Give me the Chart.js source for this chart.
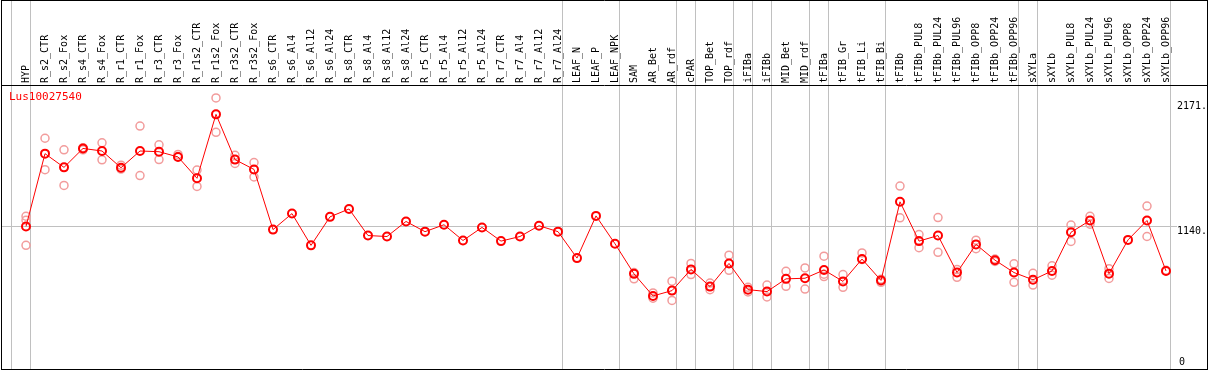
<!DOCTYPE html>
<html>
<head>
<meta charset="utf-8">
<script src="https://cdn.jsdelivr.net/npm/chart.js@4.4.1/dist/chart.umd.min.js"></script>
<style>
  html, body { margin: 0; padding: 0; background: #fff; }
  #wrap { width: 1209px; height: 370px; }
</style>
</head>
<body>
<div id="wrap"><canvas id="exprChart" width="1209" height="370"></canvas></div>
<script>
const geneName = 'Lus10027540';

const categories = [
  'HYP',
  'R_s2_CTR', 'R_s2_Fox', 'R_s4_CTR', 'R_s4_Fox', 'R_r1_CTR', 'R_r1_Fox', 'R_r3_CTR', 'R_r3_Fox',
  'R_r1s2_CTR', 'R_r1s2_Fox', 'R_r3s2_CTR', 'R_r3s2_Fox',
  'R_s6_CTR', 'R_s6_Al4', 'R_s6_Al12', 'R_s6_Al24', 'R_s8_CTR', 'R_s8_Al4', 'R_s8_Al12', 'R_s8_Al24',
  'R_r5_CTR', 'R_r5_Al4', 'R_r5_Al12', 'R_r5_Al24', 'R_r7_CTR', 'R_r7_Al4', 'R_r7_Al12', 'R_r7_Al24',
  'LEAF_N', 'LEAF_P', 'LEAF_NPK',
  'SAM', 'AR_Bet', 'AR_rdf', 'cPAR', 'TOP_Bet', 'TOP_rdf', 'iFIBa', 'iFIBb', 'MID_Bet', 'MID_rdf',
  'tFIBa', 'tFIB_Gr', 'tFIB_Li', 'tFIB_Bi',
  'tFIBb', 'tFIBb_PUL8', 'tFIBb_PUL24', 'tFIBb_PUL96', 'tFIBb_OPP8', 'tFIBb_OPP24', 'tFIBb_OPP96',
  'sXYLa', 'sXYLb', 'sXYLb_PUL8', 'sXYLb_PUL24', 'sXYLb_PUL96', 'sXYLb_OPP8', 'sXYLb_OPP24', 'sXYLb_OPP96'
];

// mean expression per sample
const meanValues = [
  1134,
  1734, 1621, 1777, 1756, 1618, 1756, 1750, 1707,
  1531, 2058, 1685, 1604,
  1108, 1240, 978, 1213, 1278, 1059, 1051, 1175,
  1091, 1148, 1018, 1126, 1013, 1051, 1140, 1091,
  873, 1221, 991,
  743, 561, 605, 780, 638, 829, 613, 597, 702, 707,
  775, 681, 865, 689,
  1337, 1013, 1059, 754, 986, 856, 754,
  694, 767, 1086, 1183, 745, 1023, 1183, 767
];

// individual replicates (null = not shown)
const rep1 = [
  1218,
  1861, 1766, 1783, 1823, 1639, 1961, 1807, 1728,
  1599, 2193, 1720, 1661,
  null, null, null, null, null, null, null, null,
  null, null, null, null, null, null, null, null,
  null, null, null,
  754, 586, 683, 829, 667, 897, 632, 651, 764, 792,
  889, 737, 916, 699,
  1467, 1067, 1207, 780, 1021, 865, 826,
  748, 810, 1145, 1218, 786, null, 1302, 772
];
const rep2 = [
  978,
  1602, 1472, 1766, 1683, 1607, 1553, 1685, 1710,
  1464, 1910, 1653, 1542,
  null, null, null, null, null, null, null, null,
  null, null, null, null, null, null, null, null,
  null, null, null,
  702, 543, 524, 737, 613, 772, 594, 553, 640, 618,
  721, 632, 861, 673,
  1205, 959, 921, 715, 950, 845, 673,
  651, 732, 1010, 1153, 705, null, 1051, null
];
const rep3 = [
  1185,
  null, null, null, null, null, null, null, null,
  null, null, null, null,
  null, null, null, null, null, null, null, null,
  null, null, null, null, null, null, null, null,
  null, null, null,
  null, null, null, null, null, null, null, null, null, null,
  740, null, null, null,
  null, null, null, null, null, null, null,
  null, null, null, null, null, null, null, null
];

// group separators drawn after these sample indexes
const groupEnds = [-1, 0, 28, 31, 34, 35, 37, 38, 39, 41, 42, 45, 52, 53, 60];
const yTicks = [0, 1140, 2171];
const gridValue = 1140;

const MONO = '"DejaVu Sans Mono", "Liberation Mono", monospace';

const framePlugin = {
  id: 'frame',
  beforeDatasetsDraw(chart) {
    const { ctx, scales: { x, y } } = chart;
    ctx.save();
    ctx.strokeStyle = '#c0c0c0';
    ctx.lineWidth = 1;
    ctx.beginPath();
    groupEnds.forEach(i => {
      const gx = Math.floor(x.getPixelForValue(i) + 4.7) + 0.5;
      ctx.moveTo(gx, 0);
      ctx.lineTo(gx, 370);
    });
    const gy = Math.round(y.getPixelForValue(gridValue)) + 0.5;
    ctx.moveTo(1, gy);
    ctx.lineTo(1177, gy);
    ctx.stroke();
    ctx.restore();
  },
  afterDraw(chart) {
    const { ctx, scales: { y } } = chart;
    ctx.save();
    ctx.strokeStyle = '#000';
    ctx.lineWidth = 1;
    ctx.beginPath();
    ctx.moveTo(1.5, 0.5); ctx.lineTo(1207.5, 0.5);
    ctx.moveTo(1.5, 0); ctx.lineTo(1.5, 370);
    ctx.moveTo(1207.5, 0); ctx.lineTo(1207.5, 370);
    ctx.moveTo(1, 369.5); ctx.lineTo(1208, 369.5);
    ctx.moveTo(1, 85.5); ctx.lineTo(1208, 85.5);
    ctx.stroke();

    // y tick labels on the right
    ctx.fillStyle = '#000';
    ctx.font = '10px ' + MONO;
    ctx.textAlign = 'left';
    yTicks.forEach(v => {
      const py = y.getPixelForValue(v);
      const txt = v === 0 ? '0' : v + '.';
      if (v === 0) {
        ctx.textBaseline = 'alphabetic';
        ctx.fillText(txt, 1179, py + 1);
      } else {
        ctx.textBaseline = 'top';
        ctx.fillText(txt, 1177, py + 1);
      }
    });

    // gene name
    ctx.fillStyle = '#ff0000';
    ctx.font = '11px ' + MONO;
    ctx.textBaseline = 'top';
    ctx.fillText(geneName, 9, 92);
    ctx.restore();
  }
};

const repStyle = {
  showLine: false,
  pointRadius: 4,
  pointHoverRadius: 4,
  pointBorderWidth: 1.5,
  pointBorderColor: '#f29c9c',
  pointBackgroundColor: 'rgba(0,0,0,0)',
  borderColor: '#f29c9c',
  spanGaps: false
};

new Chart(document.getElementById('exprChart'), {
  type: 'line',
  data: {
    labels: categories,
    datasets: [
      {
        label: 'mean',
        data: meanValues,
        borderColor: '#ff0000',
        borderWidth: 1,
        pointRadius: 4,
        pointHoverRadius: 4,
        pointBorderWidth: 2,
        pointBorderColor: '#ff0000',
        pointBackgroundColor: 'rgba(0,0,0,0)',
        tension: 0
      },
      Object.assign({ label: 'rep1', data: rep1 }, repStyle),
      Object.assign({ label: 'rep2', data: rep2 }, repStyle),
      Object.assign({ label: 'rep3', data: rep3 }, repStyle)
    ]
  },
  options: {
    responsive: false,
    animation: false,
    devicePixelRatio: 1,
    layout: { padding: { left: 16.5, right: 33.5, top: 0, bottom: 1 } },
    plugins: {
      legend: { display: false },
      tooltip: { enabled: false }
    },
    scales: {
      x: {
        type: 'category',
        position: 'top',
        offset: true,
        grid: { display: false, drawTicks: false, tickLength: 0 },
        border: { display: false },
        ticks: {
          autoSkip: false,
          minRotation: 90,
          maxRotation: 90,
          padding: 2,
          labelOffset: 12,
          color: '#000',
          font: { family: MONO, size: 10 }
        },
        afterFit: s => { s.height = 85; }
      },
      y: {
        display: false,
        min: 0,
        max: 2300
      }
    }
  },
  plugins: [framePlugin]
});
</script>
</body>
</html>
